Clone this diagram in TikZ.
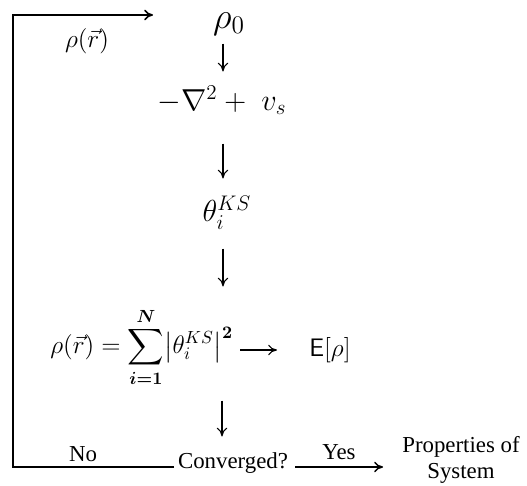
\documentclass[tikz,border=0pt]{standalone}
\usepackage{amsmath,amssymb,bm}
\usepackage[no-math]{fontspec}
\setmainfont{Liberation Serif}
\usetikzlibrary{arrows.meta,positioning,calc}

\begin{document}
\begin{tikzpicture}[
    term/.style={inner sep=2pt, font=\LARGE},
    txt/.style={inner sep=2pt, font=\fontsize{13}{15}\selectfont, align=center},
    step arrow/.style={-{To[length=5pt,width=6pt]}, line width=0.6pt, shorten >=2pt, shorten <=2pt},
    loop line/.style={line width=0.9pt},
    >=To
]
    \useasboundingbox (0,0) rectangle (10.54,9.7);
    % chain of the self-consistent cycle
    \node[term, font=\huge] (rho0) at (4.58,9.22) {$\rho_0$};
    \node[term] (ham) at (4.44,7.7) {$-\nabla^2 + \;v_s$};
    \node[term] (orb) at (4.54,5.44) {$\theta_i^{KS}$};
    \node[term, font=\Large, anchor=east] (dens) at (4.74,2.76)
        {$\displaystyle \rho(\vec{r}) = \sum_{\bm{i=1}}^{\bm{N}} \bigl|\theta_i^{KS}\bigr|^{\mathbf{2}}$};
    \node[term, font=\Large] (en) at (6.6,2.7) {$\mathsf{E}[\rho]$};
    \node[txt] (conv) at (4.66,0.44) {Converged?};
    \node[txt] (props) at (9.22,0.5) {Properties of\\System};
    \node[term, font=\Large] (rlab) at (1.74,8.88) {$\rho(\vec{r})$};
    \node[txt] (no) at (1.66,0.62) {No};
    \node[txt] (yes) at (6.78,0.66) {Yes};
    \coordinate (top) at (3.06,9.4);
    \coordinate (cornerA) at (0.26,9.4);
    \coordinate (cornerB) at (0.26,0.36);

    \draw[step arrow] (4.46,8.9) -- (4.46,8.2);
    \draw[step arrow] (4.46,6.9) -- (4.46,6.06);
    \draw[step arrow] (4.46,4.8) -- (4.46,3.9);
    \draw[step arrow] (4.44,1.76) -- (4.44,0.9);
    \draw[step arrow, shorten <=0pt, shorten >=0pt] (dens.east |- 0,2.7) ++(0.06,0) -- (5.54,2.7);
    \draw[step arrow, line width=0.8pt, shorten >=0pt] (conv.east |- cornerB) -- (7.66,0.36);
    % feedback loop
    \draw[loop line, -{To[length=5pt,width=6pt]}] (conv.west |- cornerB) -- (cornerB) -- (cornerA) -- (top);
\end{tikzpicture}
\end{document}
